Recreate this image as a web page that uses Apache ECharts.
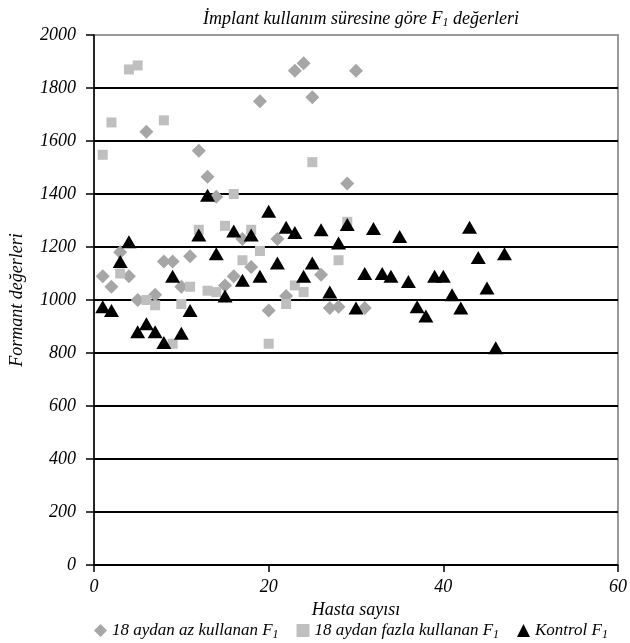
<!DOCTYPE html>
<html>
<head>
<meta charset="utf-8">
<script src="https://cdn.jsdelivr.net/npm/echarts@6/dist/echarts.min.js"></script>
<style>
    html, body { margin: 0; padding: 0; background: #fff; }
    #chart { width: 630px; height: 643px; }
</style>
</head>
<body>
<div id="chart"></div>
<script>
// 18 aydan az kullanan (baklava)
var azX = [1, 2, 3, 4, 5, 6, 7, 8, 9, 10, 11, 12, 13, 14, 15, 16, 17, 18, 19, 20, 21, 22, 23, 24, 25, 26, 27, 28, 29, 30, 31];
var azY = [1090, 1050, 1180, 1090, 1000, 1635, 1020, 1145, 1145, 1050, 1165, 1563, 1465, 1390, 1055, 1090, 1230, 1125, 1750, 960, 1230, 1015, 1865, 1893, 1765, 1095, 970, 975, 1440, 1865, 970];

// 18 aydan fazla kullanan (kare)
var fazlaX = [1, 2, 3, 4, 5, 6, 7, 8, 9, 10, 11, 12, 13, 14, 15, 16, 17, 18, 19, 20, 22, 23, 24, 25, 28, 29];
var fazlaY = [1548, 1670, 1100, 1870, 1885, 1000, 980, 1678, 835, 985, 1050, 1265, 1035, 1030, 1280, 1400, 1150, 1265, 1185, 835, 985, 1055, 1030, 1520, 1150, 1295];

// Kontrol (üçgen)
var kontrolX = [1, 2, 3, 4, 5, 6, 7, 8, 9, 10, 11, 12, 13, 14, 15, 16, 17, 18, 19, 20, 21, 22, 23, 24, 25, 26, 27, 28, 29, 30, 31, 32, 33, 34, 35, 36, 37, 38, 39, 40, 41, 42, 43, 44, 45, 46, 47];
var kontrolY = [975, 960, 1145, 1220, 880, 910, 880, 840, 1090, 875, 960, 1245, 1395, 1175, 1015, 1260, 1075, 1245, 1090, 1335, 1140, 1275, 1255, 1090, 1140, 1265, 1030, 1215, 1285, 970, 1100, 1270, 1100, 1090, 1240, 1070, 975, 940, 1090, 1090, 1020, 970, 1275, 1160, 1045, 820, 1175];

var seriesNames = ["18 aydan az kullanan F", "18 aydan fazla kullanan F", "Kontrol F"];

function pairs(xs, ys) {
    return xs.map(function (x, i) { return [x, ys[i]]; });
}

var font = "Liberation Serif";
var myChart = echarts.init(document.getElementById("chart"));

// 0..2000 arası çizgiler, en üstteki gri
var splitColors = ["#000", "#000", "#000", "#000", "#000", "#000", "#000", "#000", "#000", "#000", "#999"];

var option = {
    animation: false,
    title: {
        text: "{t|İmplant kullanım süresine göre F}{s|1}{t| değerleri}",
        left: 356,
        textAlign: "center",
        top: 4,
        textStyle: {
            fontWeight: "normal",
            rich: {
                t: { fontFamily: font, fontStyle: "italic", fontWeight: "normal", fontSize: 18, color: "#000" },
                s: { fontFamily: font, fontStyle: "italic", fontWeight: "normal", fontSize: 12, color: "#000", padding: [8, 0, 0, 0] }
            }
        }
    },
    legend: {
        left: 89,
        top: 617,
        itemWidth: 13,
        itemHeight: 13,
        itemGap: 18,
        data: [
            { name: seriesNames[0], icon: "diamond" },
            { name: seriesNames[1], icon: "rect" },
            { name: seriesNames[2], icon: "triangle" }
        ],
        formatter: function (name) {
            return "{t|" + name + "}{s|1}";
        },
        textStyle: {
            rich: {
                t: { fontFamily: font, fontStyle: "italic", fontSize: 17, color: "#000" },
                s: { fontFamily: font, fontStyle: "italic", fontSize: 12, color: "#000", padding: [8, 0, 0, 0] }
            }
        }
    },
    grid: {
        left: 92,
        right: 9,
        top: 35,
        bottom: 78,
        show: true,
        borderColor: "#999",
        borderWidth: 2
    },
    xAxis: {
        type: "value",
        min: 0,
        max: 60,
        interval: 20,
        name: "Hasta sayısı",
        nameLocation: "middle",
        nameGap: 22,
        nameTextStyle: { fontFamily: font, fontStyle: "italic", fontSize: 18, color: "#000" },
        axisLine: { show: true, onZero: false, lineStyle: { color: "#000", width: 1.5 } },
        axisTick: { show: true, length: 7, lineStyle: { color: "#000", width: 1.5 } },
        axisLabel: { fontFamily: font, fontStyle: "italic", fontSize: 18, color: "#000", margin: 13 },
        splitLine: { show: false }
    },
    yAxis: {
        type: "value",
        min: 0,
        max: 2000,
        interval: 200,
        name: "Formant değerleri",
        nameLocation: "middle",
        nameGap: 68,
        nameRotate: 90,
        nameTextStyle: { fontFamily: font, fontStyle: "italic", fontSize: 18, color: "#000" },
        axisLine: { show: true, lineStyle: { color: "#000", width: 1.5 } },
        axisTick: { show: true, length: 8, lineStyle: { color: "#000", width: 1.5 } },
        axisLabel: {
            fontFamily: font, fontStyle: "italic", fontSize: 18, color: "#000", margin: 18,
            formatter: function (v) { return String(v); }
        },
        splitLine: { show: true, lineStyle: { color: splitColors, width: 2 } }
    },
    series: [
        {
            name: seriesNames[0],
            type: "scatter",
            symbol: "diamond",
            symbolSize: 14,
            itemStyle: { color: "#a6a6a6", opacity: 1 },
            data: pairs(azX, azY)
        },
        {
            name: seriesNames[1],
            type: "scatter",
            symbol: "rect",
            symbolSize: 10,
            itemStyle: { color: "#bfbfbf", opacity: 1 },
            data: pairs(fazlaX, fazlaY)
        },
        {
            name: seriesNames[2],
            type: "scatter",
            symbol: "triangle",
            symbolSize: [15, 13],
            itemStyle: { color: "#000", opacity: 1 },
            data: pairs(kontrolX, kontrolY)
        }
    ]
};
myChart.setOption(option);
</script>
</body>
</html>
